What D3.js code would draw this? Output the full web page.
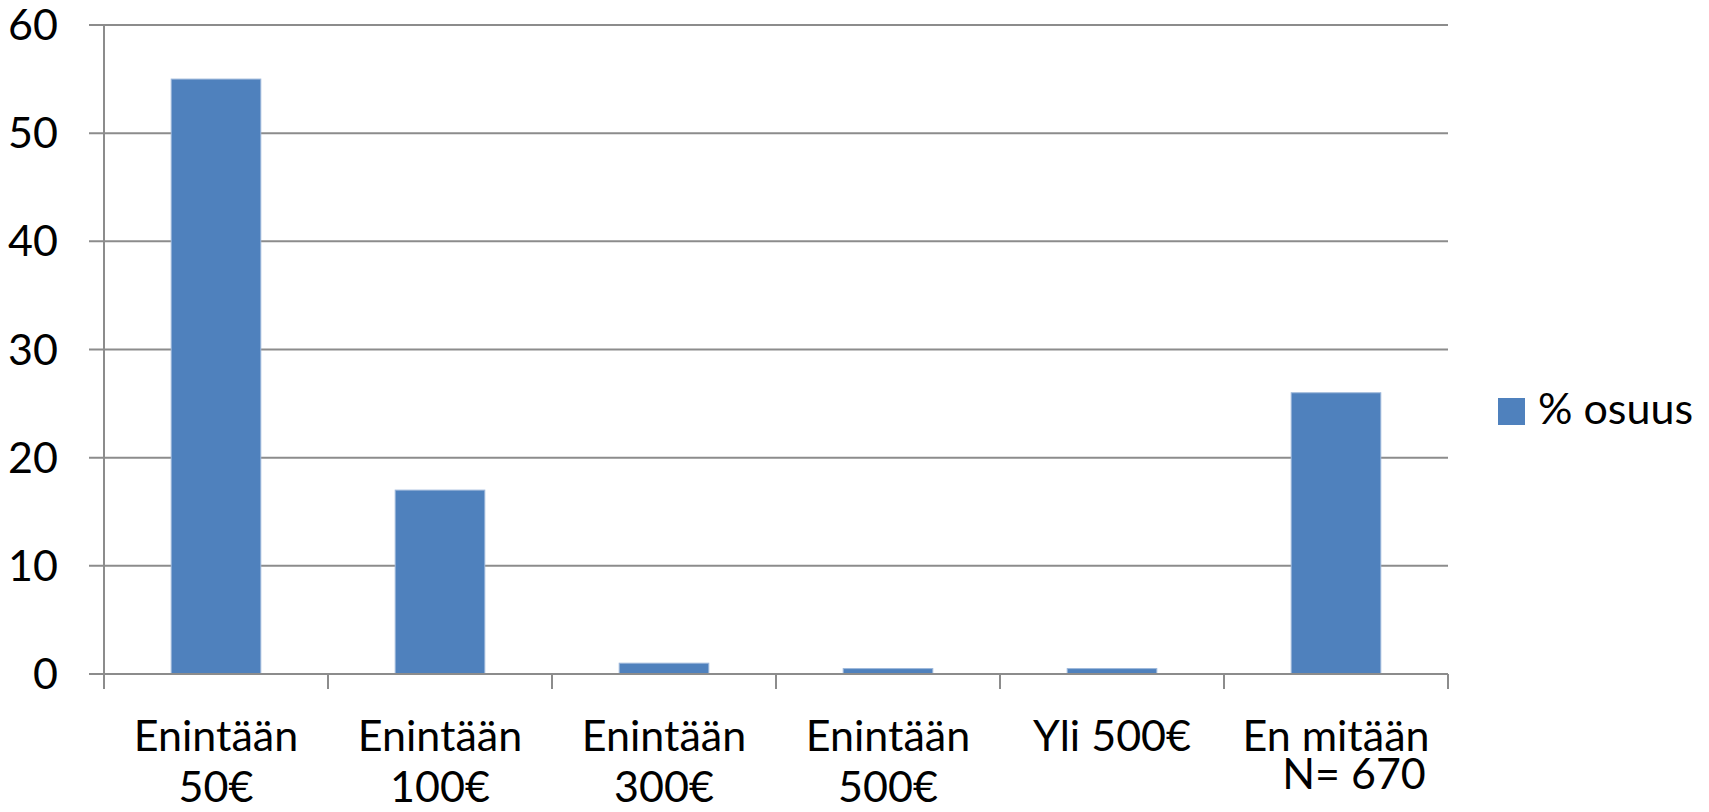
<!DOCTYPE html>
<html>
<head>
<meta charset="utf-8">
<script src="https://cdn.jsdelivr.net/npm/d3@7"></script>
<style>
  html, body { margin: 0; padding: 0; background: #fff; }
  svg { display: block; }
  text { font-family: Lato, "Open Sans", sans-serif; fill: #000; }
</style>
</head>
<body>
<svg id="chart" width="1709" height="812"></svg>
<script>
// ---- data ----
const categories = ["Enintään 50€", "Enintään 100€", "Enintään 300€", "Enintään 500€", "Yli 500€", "En mitään"];
const categoryLines = [["Enintään", "50€"], ["Enintään", "100€"], ["Enintään", "300€"], ["Enintään", "500€"], ["Yli 500€"], ["En mitään"]];
const values = [55, 17, 1, 0.5, 0.5, 26];
const yTicks = [0, 10, 20, 30, 40, 50, 60];
const seriesName = "% osuus";
const note = "N= 670";

// ---- layout ----
(function () {
const svg = d3.select("#chart");
const plotLeft = 104, plotRight = 1448, plotTop = 25, plotBottom = 674;
const barColor = "#4F81BD";
const gridColor = "#8C8C8C";
const fontSize = 43;

const x = d3.scaleBand().domain(categories).range([plotLeft, plotRight]).paddingInner(0.6).paddingOuter(0.3);
const y = d3.scaleLinear().domain([0, 60]).range([plotBottom, plotTop]);

// gridlines + y ticks
svg.append("g").selectAll("line").data(yTicks).join("line")
  .attr("x1", plotLeft - 15).attr("x2", plotRight)
  .attr("y1", d => y(d)).attr("y2", d => y(d))
  .attr("stroke", gridColor).attr("stroke-width", 2);

// y axis line
svg.append("line").attr("x1", plotLeft).attr("x2", plotLeft).attr("y1", y(60)).attr("y2", plotBottom + 15)
  .attr("stroke", gridColor).attr("stroke-width", 2);

// x ticks at category boundaries
const step = x.step();
const boundaries = categories.map(c => x(c) - (step - x.bandwidth()) / 2).concat([plotRight]);
svg.append("g").selectAll("line").data(boundaries).join("line")
  .attr("x1", d => d).attr("x2", d => d)
  .attr("y1", plotBottom).attr("y2", plotBottom + 15)
  .attr("stroke", gridColor).attr("stroke-width", 2);

// bars
svg.append("g").selectAll("rect").data(values).join("rect")
  .attr("x", (d, i) => x(categories[i]))
  .attr("y", d => y(d))
  .attr("width", x.bandwidth())
  .attr("height", d => plotBottom - y(d))
  .attr("fill", barColor)
  .attr("stroke", "#9DB7DA").attr("stroke-width", 1);

// baseline redraw over bars
svg.append("line").attr("x1", plotLeft - 15).attr("x2", plotRight).attr("y1", plotBottom).attr("y2", plotBottom)
  .attr("stroke", gridColor).attr("stroke-width", 2);

// y tick labels
svg.append("g").selectAll("text").data(yTicks).join("text")
  .attr("x", 58).attr("y", d => y(d) + 15)
  .attr("text-anchor", "end")
  .attr("font-size", fontSize)
  .text(d => d);

// x labels (last one carries the N note as a second line)
const lastIdx = categories.length - 1;
const xl = svg.append("g").selectAll("text").data(categories).join("text")
  .attr("x", c => x(c) + x.bandwidth() / 2)
  .attr("y", 751)
  .attr("text-anchor", "middle")
  .attr("font-size", fontSize);
xl.each(function (c, i) {
  const t = d3.select(this);
  const cx = x(c) + x.bandwidth() / 2;
  categoryLines[i].forEach((ln, j) => {
    t.append("tspan").attr("x", cx).attr("dy", j === 0 ? 0 : 51).text(ln);
  });
  if (i === lastIdx) {
    t.append("tspan").attr("x", cx + 18).attr("dy", 38).text(note);
  }
});

// legend
svg.append("rect").attr("x", 1498).attr("y", 398).attr("width", 27).attr("height", 27).attr("fill", barColor);
svg.append("text").attr("x", 1538).attr("y", 424).attr("font-size", fontSize).text(seriesName);
})();
</script>
</body>
</html>
